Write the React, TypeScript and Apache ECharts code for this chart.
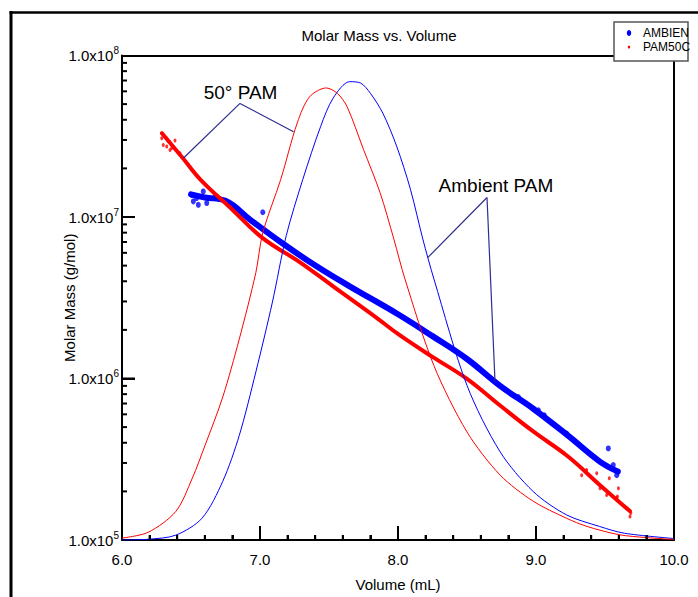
import React, { useEffect, useRef } from "react";
import * as echarts from "echarts";

const FONT = "'Liberation Sans', Arial, Helvetica, sans-serif";
const BLUE = "#0000ff";
const RED = "#ff0000";
const NAVY = "#2e2e8f";

// Molar mass bands (Volume mL, g/mol)
const ambientBandV = [6.5, 6.6, 6.75, 6.93, 7.17, 7.41, 7.65, 8.0, 8.25, 8.5, 8.74, 8.98, 9.23, 9.46, 9.59];
const ambientBandM = [1.38e7, 1.32e7, 1.26e7, 9.6e6, 6.8e6, 4.95e6, 3.72e6, 2.5e6, 1.83e6, 1.32e6, 9.0e5, 6.5e5, 4.44e5, 3.07e5, 2.66e5];

const pam50BandV = [6.29, 6.44, 6.57, 6.8, 7.02, 7.29, 7.53, 7.85, 8.01, 8.25, 8.5, 8.74, 8.98, 9.23, 9.46, 9.68];
const pam50BandM = [3.3e7, 2.32e7, 1.7e7, 1.11e7, 7.4e6, 5.24e6, 3.72e6, 2.36e6, 1.86e6, 1.36e6, 9.95e5, 6.8e5, 4.7e5, 3.3e5, 2.2e5, 1.51e5];

// Scattered points off the bands
const ambientNoiseV = [6.505, 6.517, 6.553, 6.589, 6.625, 6.674, 6.541, 6.614, 6.7, 7.02, 8.872, 9.017, 9.06, 9.222, 9.524, 9.56, 9.585, 9.597];
const ambientNoiseM = [1.37e7, 1.25e7, 1.19e7, 1.44e7, 1.31e7, 1.34e7, 1.31e7, 1.22e7, 1.3e7, 1.07e7, 7.67e5, 6.35e5, 5.92e5, 4.56e5, 3.69e5, 2.91e5, 2.52e5, 2.65e5];

const pam50NoiseV = [6.288, 6.288, 6.299, 6.324, 6.384, 6.36, 6.42, 6.348, 6.333, 9.331, 9.367, 9.44, 9.464, 9.512, 9.531, 9.585, 9.59, 9.597, 9.657, 9.681, 9.687];
const pam50NoiseM = [3.3e7, 3.07e7, 2.79e7, 2.73e7, 2.98e7, 2.67e7, 2.48e7, 2.6e7, 2.96e7, 2.52e5, 2.71e5, 2.59e5, 2.09e5, 1.9e5, 2.41e5, 1.82e5, 1.86e5, 2.09e5, 1.57e5, 1.4e5, 1.47e5];

// Detector (concentration) traces, normalised
const ambientRiV = [6.0, 6.19, 6.39, 6.58, 6.73, 6.85, 6.97, 7.09, 7.19, 7.31, 7.44, 7.53, 7.65, 7.73, 7.8, 7.89, 7.99, 8.09, 8.18, 8.26, 8.5, 8.74, 8.98, 9.22, 9.46, 9.64, 10.0];
const ambientRi = [0.0, 0.0015, 0.01, 0.045, 0.121, 0.216, 0.347, 0.491, 0.628, 0.744, 0.854, 0.912, 0.946, 0.943, 0.922, 0.881, 0.813, 0.724, 0.621, 0.539, 0.319, 0.182, 0.1, 0.052, 0.028, 0.014, 0.003];

const pam50RiV = [6.0, 6.19, 6.39, 6.51, 6.6, 6.73, 6.85, 6.97, 7.02, 7.15, 7.27, 7.36, 7.48, 7.56, 7.63, 7.75, 7.87, 7.97, 8.05, 8.26, 8.5, 8.74, 8.98, 9.22, 9.37, 9.6, 9.8, 10.0];
const pam50Ri = [0.004, 0.016, 0.059, 0.128, 0.194, 0.295, 0.415, 0.552, 0.634, 0.744, 0.861, 0.915, 0.933, 0.922, 0.895, 0.806, 0.717, 0.621, 0.539, 0.36, 0.223, 0.134, 0.08, 0.045, 0.028, 0.011, 0.005, 0.001];

// Axis tick positions
const xMajorTicks = [7, 8, 9];
const xMinorTicks = [6.2, 6.4, 6.6, 6.8, 7.2, 7.4, 7.6, 7.8, 8.2, 8.4, 8.6, 8.8, 9.2, 9.4, 9.6, 9.8];
const yMajorTicks = [1e6, 1e7];
const yMinorTicks = [2e5, 3e5, 4e5, 5e5, 6e5, 7e5, 8e5, 9e5, 2e6, 3e6, 4e6, 5e6, 6e6, 7e6, 8e6, 9e6, 2e7, 3e7, 4e7, 5e7, 6e7, 7e7, 8e7, 9e7];

// Annotations: label position, apex, and two pointer ends (Volume, g/mol)
const ann50Label = [6.859, 5.93e7];
const ann50Apex = [6.855, 5.05e7];
const ann50Ends = [[6.444, 2.31e7], [7.243, 3.37e7]];
const annAmbLabel = [8.71, 1.56e7];
const annAmbApex = [8.645, 1.32e7];
const annAmbEnds = [[8.217, 5.62e6], [8.703, 9.55e5]];

const zip = (a: number[], b: number[]) => a.map((v, i) => [v, b[i]]);

const frameAxis = { show: true, onZero: false, lineStyle: { color: "#000", width: 2 } };
const tickStyle = { color: "#000", width: 2 };

export default function App() {
  const ref = useRef<HTMLDivElement>(null);
  useEffect(() => {
    const chart = echarts.init(ref.current!, null, { renderer: "svg" });
    chart.setOption({
      animation: false,
      backgroundColor: "#fff",
      grid: { left: 122, right: 24, top: 55.5, bottom: 55 },
      xAxis: [
        {
          type: "value",
          min: 6,
          max: 10,
          interval: 1,
          name: "Volume (mL)",
          nameLocation: "middle",
          nameGap: 37,
          nameMoveOverlap: false,
          nameTextStyle: { fontSize: 15, color: "#000", fontFamily: FONT },
          axisLine: frameAxis,
          axisTick: { show: true, inside: true, length: 14, lineStyle: tickStyle },
          minorTick: { show: true, splitNumber: 5, length: 5, lineStyle: tickStyle },
          axisLabel: { show: true, fontSize: 15, color: "#000", fontFamily: FONT, margin: 12, formatter: (v: number) => v.toFixed(1) },
          splitLine: { show: false },
          minorSplitLine: { show: false },
        },
        {
          type: "value",
          position: "top",
          min: 6,
          max: 10,
          interval: 1,
          axisLine: frameAxis,
          axisTick: { show: false },
          axisLabel: { show: false },
          splitLine: { show: false },
        },
      ],
      yAxis: [
        {
          type: "log",
          logBase: 10,
          min: 1e5,
          max: 1e8,
          name: "Molar Mass (g/mol)",
          nameLocation: "middle",
          nameGap: 45,
          nameMoveOverlap: false,
          nameTextStyle: { fontSize: 15, color: "#000", fontFamily: FONT },
          axisLine: frameAxis,
          axisTick: { show: true, inside: true, length: 13, lineStyle: tickStyle },
          axisLabel: {
            show: true,
            margin: 3,
            formatter: (v: number) => `{b|1.0x10}{s|${Math.round(Math.log10(v))}}`,
            rich: {
              b: { fontSize: 15, color: "#000", fontFamily: FONT, lineHeight: 20 },
              s: { fontSize: 10, color: "#000", fontFamily: FONT, verticalAlign: "top", lineHeight: 11 },
            },
          },
          splitLine: { show: false },
        },
        {
          type: "value",
          position: "right",
          min: 0,
          max: 1,
          axisLine: frameAxis,
          axisTick: { show: false },
          axisLabel: { show: false },
          splitLine: { show: false },
        },
      ],
      series: [
        {
          name: "AMBIEN",
          type: "line",
          yAxisIndex: 0,
          data: zip(ambientBandV, ambientBandM),
          symbol: "none",
          smooth: 0.4,
          lineStyle: { color: BLUE, width: 6, cap: "round", join: "round" },
          z: 2,
        },
        {
          name: "AMBIEN",
          type: "scatter",
          yAxisIndex: 0,
          data: zip(ambientNoiseV, ambientNoiseM),
          symbol: "circle",
          symbolSize: [5, 6],
          itemStyle: { color: BLUE },
          z: 2,
        },
        {
          name: "PAM50C",
          type: "line",
          yAxisIndex: 0,
          data: zip(pam50BandV, pam50BandM),
          symbol: "none",
          smooth: 0.4,
          lineStyle: { color: RED, width: 4, cap: "round", join: "round" },
          z: 3,
        },
        {
          name: "PAM50C",
          type: "scatter",
          yAxisIndex: 0,
          data: zip(pam50NoiseV, pam50NoiseM),
          symbol: "circle",
          symbolSize: [3, 4],
          itemStyle: { color: RED },
          z: 3,
        },
        {
          name: "AMBIEN RI",
          type: "line",
          yAxisIndex: 1,
          data: zip(ambientRiV, ambientRi),
          symbol: "none",
          smooth: 0.3,
          lineStyle: { color: BLUE, width: 1 },
          z: 4,
        },
        {
          name: "PAM50C RI",
          type: "line",
          yAxisIndex: 1,
          data: zip(pam50RiV, pam50Ri),
          symbol: "none",
          smooth: 0.3,
          lineStyle: { color: RED, width: 1 },
          z: 4,
        },
      ],
    });

    const px = (d: number[]) => chart.convertToPixel({ seriesIndex: 0 }, d) as number[];
    const pA = px([7, 1e6]);
    const pB = px([8, 1e7]);
    const left = pA[0] - (pB[0] - pA[0]);
    const bottom = pA[1] + (pA[1] - pB[1]);
    const vTick = (x: number, len: number) => ({
      type: "rect",
      z: 100,
      shape: { x: x - 1, y: bottom - len, width: 2, height: len },
      style: { fill: "#000" },
    });
    const hTick = (y: number, len: number) => ({
      type: "rect",
      z: 100,
      shape: { x: left, y: y - 1, width: len, height: 2 },
      style: { fill: "#000" },
    });
    const ticks = [
      ...xMajorTicks.map((v) => vTick(px([v, 1e6])[0], 14)),
      ...xMinorTicks.map((v) => vTick(px([v, 1e6])[0], 5)),
      ...yMajorTicks.map((v) => hTick(px([7, v])[1], 13)),
      ...yMinorTicks.map((v) => hTick(px([7, v])[1], 5)),
    ].filter((t) => Number.isFinite(t.shape.x) && Number.isFinite(t.shape.y));

    const annotation = (label: number[], apex: number[], ends: number[][], text: string) => {
      const a = px(apex);
      const l = px(label);
      return [
        ...ends.map((e) => {
          const p = px(e);
          return { type: "line", z: 50, shape: { x1: a[0], y1: a[1], x2: p[0], y2: p[1] }, style: { stroke: NAVY, lineWidth: 1.2 } };
        }),
        {
          type: "text",
          z: 50,
          x: l[0],
          y: l[1],
          style: { text, fontSize: 19, fontFamily: FONT, fill: "#000", align: "center", verticalAlign: "middle", textAlign: "center", textVerticalAlign: "middle" },
        },
      ];
    };

    chart.setOption({
      graphic: [
        { type: "line", z: 50, shape: { x1: 11, y1: 11, x2: 11, y2: 600 }, style: { stroke: "#000", lineWidth: 3 } },
        { type: "line", z: 50, shape: { x1: 9.5, y1: 12.5, x2: 700, y2: 12.5 }, style: { stroke: "#000", lineWidth: 2.5 } },
        {
          type: "text",
          z: 50,
          x: 379,
          y: 35.5,
          style: { text: "Molar Mass vs. Volume", fontSize: 15, fontFamily: FONT, fill: "#000", align: "center", verticalAlign: "middle", textAlign: "center", textVerticalAlign: "middle" },
        },
        { type: "rect", z: 60, shape: { x: 614, y: 22, width: 74, height: 39 }, style: { fill: "#fff", stroke: "#555", lineWidth: 1.5 } },
        { type: "ellipse", z: 61, shape: { cx: 629, cy: 33, rx: 2.2, ry: 3 }, style: { fill: BLUE } },
        { type: "ellipse", z: 61, shape: { cx: 629, cy: 47, rx: 1.2, ry: 1.6 }, style: { fill: RED } },
        { type: "text", z: 61, x: 643, y: 33, style: { text: "AMBIEN", fontSize: 12, fontFamily: FONT, fill: "#000", verticalAlign: "middle", textVerticalAlign: "middle" } },
        { type: "text", z: 61, x: 643, y: 47, style: { text: "PAM50C", fontSize: 12, fontFamily: FONT, fill: "#000", verticalAlign: "middle", textVerticalAlign: "middle" } },
        ...annotation(ann50Label, ann50Apex, ann50Ends, "50° PAM"),
        ...annotation(annAmbLabel, annAmbApex, annAmbEnds, "Ambient PAM"),
        ...ticks,
      ],
    });

    return () => chart.dispose();
  }, []);
  return <div ref={ref} style={{ position: "absolute", left: 0, top: 0, width: 698, height: 597 }} />;
}
